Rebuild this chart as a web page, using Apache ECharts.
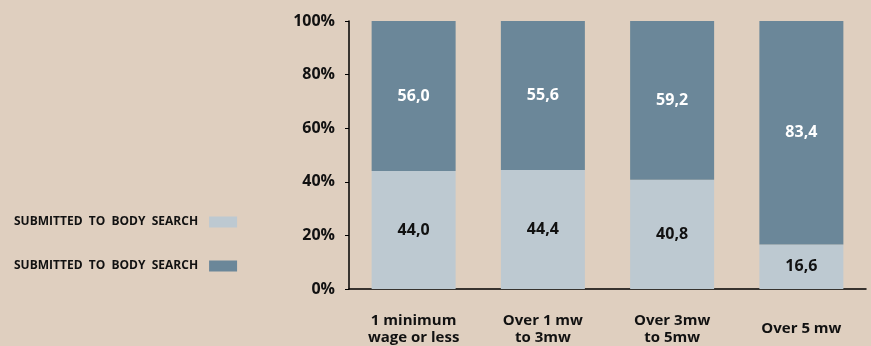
<!DOCTYPE html>
<html lang="en">
<head>
    <meta charset="utf-8">
    <title>Body search by income</title>
    <script src="https://cdn.jsdelivr.net/npm/echarts@6/dist/echarts.min.js"></script>
    <style>
        html, body { margin: 0; padding: 0; background: #dfcfbf; }
        #main { width: 871px; height: 346px; }
    </style>
</head>
<body>
<div id="main"></div>
<script type="text/javascript">
    // data
    var categories = ['1 minimum\nwage or less', 'Over 1 mw\nto 3mw', 'Over 3mw\nto 5mw', 'Over 5 mw'];
    var lowerValues = [44.0, 44.4, 40.8, 16.6];
    var upperValues = [56.0, 55.6, 59.2, 83.4];
    var seriesNames = ['SUBMITTED TO BODY SEARCH', 'SUBMITTED TO BODY SEARCH '];

    var font = 'Open Sans';
    var myChart = echarts.init(document.getElementById('main'));

    function fmt(p) {
        return p.value.toFixed(1).replace('.', ',');
    }

    var option = {
        backgroundColor: '#dfcfbf',
        animation: false,
        textStyle: { fontFamily: font },
        legend: {
            orient: 'vertical',
            left: 9,
            top: 211,
            align: 'right',
            icon: 'rect',
            itemWidth: 28,
            itemHeight: 11,
            itemGap: 32,
            formatter: function (n) { return n.trim().split(' ').join('  '); },
            textStyle: { fontFamily: font, fontWeight: 'bold', fontSize: 12, color: '#111', padding: [0, 6, 0, 0] },
            data: seriesNames
        },
        grid: { left: 349, right: 5, top: 21, bottom: 57 },
        xAxis: {
            type: 'category',
            data: categories,
            axisLine: { lineStyle: { color: '#000', width: 1.5 } },
            axisTick: { length: 4, lineStyle: { color: '#000' } },
            axisLabel: {
                fontFamily: font, fontWeight: 'bold', fontSize: 15, color: '#111',
                lineHeight: 17, margin: 40, verticalAlign: 'middle'
            }
        },
        yAxis: {
            type: 'value',
            min: 0, max: 100, interval: 20,
            splitLine: { show: false },
            axisLine: { show: true, lineStyle: { color: '#000', width: 1.5 } },
            axisTick: { show: true, length: 4, lineStyle: { color: '#000' } },
            axisLabel: {
                formatter: '{value}%', fontFamily: font, fontWeight: 'bold',
                fontSize: 16, color: '#111', margin: 14
            }
        },
        series: [
            {
                name: seriesNames[0],
                type: 'bar',
                stack: 'total',
                barWidth: 84,
                itemStyle: { color: '#bdc9d1' },
                label: { show: true, formatter: fmt, fontFamily: font, fontWeight: 'bold', fontSize: 16, color: '#111' },
                data: lowerValues
            },
            {
                name: seriesNames[1],
                type: 'bar',
                stack: 'total',
                barWidth: 84,
                itemStyle: { color: '#6b8799' },
                label: { show: true, formatter: fmt, fontFamily: font, fontWeight: 'bold', fontSize: 16, color: '#fff' },
                data: upperValues
            }
        ]
    };
    myChart.setOption(option);
</script>
</body>
</html>
